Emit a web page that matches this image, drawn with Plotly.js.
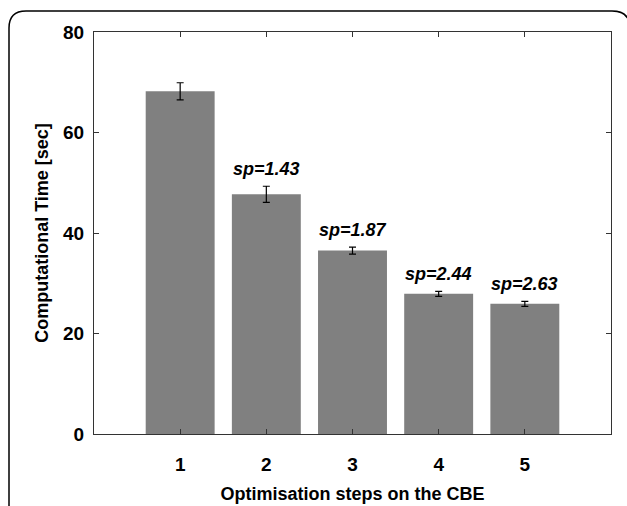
<!DOCTYPE html>
<html>
<head>
<meta charset="utf-8">
<script src="https://cdn.plot.ly/plotly-3.0.1.min.js"></script>
<style>
html,body{margin:0;padding:0;background:#fff;}
#chart{width:627px;height:506px;}
</style>
</head>
<body>
<div id="chart"></div>
<script>
// Data
const steps = [1, 2, 3, 4, 5];
const times = [68.2, 47.7, 36.5, 27.9, 25.9];
const errors = [1.7, 1.6, 0.7, 0.5, 0.5];
const speedupLabels = ["", "sp=1.43", "sp=1.87", "sp=2.44", "sp=2.63"];
const yTicks = [0, 20, 40, 60, 80];

const FONT = "Liberation Sans, Arial, sans-serif";

const trace = {
  type: "bar",
  x: steps,
  y: times,
  width: 0.8,
  marker: {color: "#808080", line: {width: 0}},
  error_y: {type: "data", array: errors, visible: true, color: "#000", thickness: 1.2, width: 3.5},
  hoverinfo: "none"
};

const annotations = [];
steps.forEach((s, i) => {
  if (speedupLabels[i]) {
    annotations.push({
      x: s, y: times[i] + errors[i], xref: "x", yref: "y",
      text: "<b><i>" + speedupLabels[i] + "</i></b>",
      showarrow: false, yanchor: "bottom", xanchor: "center", yshift: 5,
      font: {family: FONT, size: 18, color: "#000"}
    });
  }
});

// outer rounded frame (paper coords relative to plot area 94..611 x 32..434)
function px(x){ return (x - 94) / 517; }
function py(y){ return (434 - y) / 402; }
const framePath = "M " + px(9) + " " + py(530) +
  " L " + px(9) + " " + py(28) +
  " Q " + px(9) + " " + py(11) + " " + px(26) + " " + py(11) +
  " L " + px(612) + " " + py(11) +
  " Q " + px(630) + " " + py(11) + " " + px(630) + " " + py(28) +
  " L " + px(630) + " " + py(530);

const layout = {
  width: 627, height: 506,
  margin: {l: 94, r: 16, t: 32, b: 72},
  paper_bgcolor: "#fff", plot_bgcolor: "#fff",
  showlegend: false,
  font: {family: FONT, color: "#000"},
  xaxis: {
    range: [0, 6],
    tickvals: steps, ticktext: steps.map(String),
    ticks: "inside", ticklen: 5, tickcolor: "#333", tickwidth: 1,
    showline: true, linecolor: "#333", linewidth: 1, mirror: "ticks",
    showgrid: false, zeroline: false,
    tickfont: {family: FONT, size: 19, color: "#000", weight: "bold"},
    ticklabelstandoff: 13,
    title: {text: "<b>Optimisation steps on the CBE</b>", font: {family: FONT, size: 18, color: "#000"}, standoff: 13},
    fixedrange: true
  },
  yaxis: {
    range: [0, 80],
    tickvals: yTicks, ticktext: yTicks.map(String),
    ticks: "inside", ticklen: 5, tickcolor: "#333", tickwidth: 1,
    showline: true, linecolor: "#333", linewidth: 1, mirror: "ticks",
    showgrid: false, zeroline: false,
    tickfont: {family: FONT, size: 19, color: "#000", weight: "bold"},
    ticklabelstandoff: 5,
    title: {text: "<b>Computational Time [sec]</b>", font: {family: FONT, size: 18, color: "#000"}, standoff: 9},
    fixedrange: true
  },
  annotations: annotations,
  shapes: [{
    type: "path", xref: "paper", yref: "paper",
    path: framePath,
    line: {color: "#000", width: 1.5}
  }]
};

Plotly.newPlot("chart", [trace], layout, {displayModeBar: false, staticPlot: true});
</script>
</body>
</html>
